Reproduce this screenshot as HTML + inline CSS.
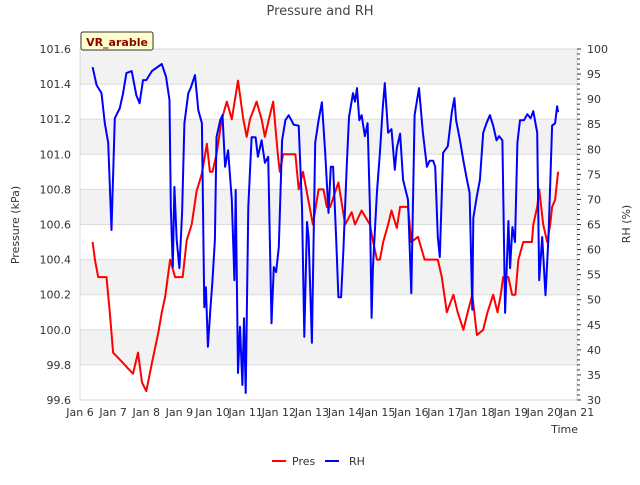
<!DOCTYPE html>
<html><head><meta charset="utf-8"><style>
body{margin:0;background:#fff;font-family:"Liberation Sans","DejaVu Sans",sans-serif;}
svg text{font-family:"DejaVu Sans","Liberation Sans",sans-serif;}
</style></head><body>
<svg id="c" width="640" height="480" xmlns="http://www.w3.org/2000/svg"></svg>
<script>
const xTickLabels=["Jan 6","Jan 7","Jan 8","Jan 9","Jan 10","Jan 11","Jan 12","Jan 13","Jan 14","Jan 15","Jan 16","Jan 17","Jan 18","Jan 19","Jan 20","Jan 21"];
const leftTicks=[99.6,99.8,100.0,100.2,100.4,100.6,100.8,101.0,101.2,101.4,101.6];
const rightTicks=[30,35,40,45,50,55,60,65,70,75,80,85,90,95,100];
const presDays=[6.38,6.45,6.55,6.8,6.9,7.0,7.3,7.45,7.6,7.75,7.87,8.0,8.17,8.36,8.47,8.57,8.72,8.87,9.1,9.22,9.37,9.52,9.68,9.83,9.92,10.0,10.12,10.28,10.43,10.58,10.77,10.93,11.03,11.13,11.33,11.48,11.58,11.7,11.83,11.97,12.03,12.13,12.5,12.6,12.73,13.03,13.2,13.35,13.45,13.55,13.64,13.8,14.0,14.2,14.3,14.5,14.75,14.85,14.96,15.05,15.15,15.3,15.4,15.56,15.66,15.9,16.0,16.2,16.4,16.8,16.92,17.07,17.27,17.4,17.57,17.7,17.84,17.98,18.17,18.3,18.47,18.6,18.7,18.77,18.93,19.04,19.14,19.23,19.38,19.64,19.68,19.8,19.86,19.98,20.1,20.19,20.25,20.34,20.43];
const presVals=[100.5,100.4,100.3,100.3,100.1,99.87,99.81,99.78,99.75,99.87,99.70,99.65,99.81,99.98,100.1,100.19,100.4,100.3,100.3,100.51,100.6,100.79,100.89,101.06,100.9,100.9,101.0,101.2,101.3,101.2,101.42,101.2,101.1,101.2,101.3,101.2,101.1,101.2,101.3,101.0,100.9,101.0,101.0,100.8,100.9,100.6,100.8,100.8,100.7,100.7,100.75,100.84,100.6,100.67,100.6,100.68,100.6,100.5,100.4,100.4,100.5,100.6,100.68,100.58,100.7,100.7,100.5,100.53,100.4,100.4,100.3,100.1,100.2,100.1,100.0,100.1,100.2,99.97,100.0,100.1,100.2,100.1,100.2,100.3,100.3,100.2,100.2,100.4,100.5,100.5,100.6,100.7,100.8,100.6,100.5,100.6,100.7,100.74,100.9];
const rhDays=[6.38,6.5,6.65,6.75,6.85,6.95,7.05,7.2,7.3,7.4,7.56,7.7,7.8,7.9,8.0,8.17,8.47,8.6,8.7,8.74,8.8,8.85,8.92,9.0,9.08,9.15,9.27,9.35,9.47,9.57,9.68,9.75,9.8,9.86,9.93,10.0,10.07,10.12,10.23,10.3,10.38,10.47,10.58,10.66,10.7,10.77,10.83,10.9,10.95,11.0,11.08,11.18,11.3,11.37,11.48,11.58,11.68,11.78,11.85,11.92,12.0,12.1,12.2,12.3,12.45,12.6,12.7,12.77,12.85,12.9,13.0,13.1,13.2,13.3,13.4,13.5,13.57,13.64,13.73,13.8,13.88,13.95,14.05,14.12,14.24,14.3,14.36,14.43,14.5,14.6,14.68,14.75,14.8,14.84,14.96,15.05,15.14,15.2,15.3,15.4,15.5,15.56,15.66,15.75,15.9,16.0,16.1,16.23,16.35,16.47,16.55,16.66,16.72,16.8,16.86,16.96,17.1,17.22,17.3,17.35,17.47,17.57,17.68,17.76,17.84,17.87,17.98,18.07,18.17,18.27,18.37,18.47,18.57,18.65,18.75,18.83,18.93,18.98,19.05,19.13,19.2,19.28,19.4,19.5,19.6,19.68,19.8,19.86,19.95,20.05,20.14,20.25,20.34,20.4,20.43];
const rhVals=[96.4,92.8,91.2,85.2,81.3,63.9,86.2,88.2,91.2,95.2,95.6,90.8,89.2,93.8,93.8,95.6,97,94.4,89.8,68.5,56.5,72.5,61.9,56.3,67.3,85.2,91.2,92.4,94.8,87.8,85.2,48.5,52.5,40.6,47.6,53.9,61.9,82.4,85.8,86.8,76.5,79.8,69.9,53.9,71.9,35.4,44.6,33,46.3,31.4,68.5,82.4,82.4,78.5,81.8,77.3,78.5,45.3,56.5,55.5,60.5,81.8,85.8,86.8,84.9,84.7,68.5,42.6,65.5,62.5,41.4,81.3,85.8,89.4,79.3,67.3,76.5,76.5,62.5,50.5,50.5,59.9,76.5,86.4,91.2,89.5,92.2,85.8,86.8,82.6,85.2,68.5,46.4,56.3,71.3,79.3,88.4,93.2,83.3,84,75.9,80.2,83.1,73.9,69.9,51.3,86.8,92.2,83.3,76.5,77.7,77.7,76.5,62.5,58.5,79.3,80.6,87.4,90.2,85.8,81.8,77.7,73.9,71.3,48,66.3,70.7,73.9,83.3,85.2,86.8,84.7,81.8,82.6,81.8,47.4,65.7,56.3,64.5,61.5,81.3,85.8,85.8,87,86.2,87.6,83.3,53.9,62.5,50.9,62.5,84.7,85.2,88.6,87.4];

const NS="http://www.w3.org/2000/svg";
const svg=document.getElementById('c');
const X0=80,X1=577,Y0=49,Y1=400;
const xs=d=>X0+(d-6)*(X1-X0)/15;
const yl=p=>Y1-(p-99.6)*(Y1-Y0)/2.0;
const yr=r=>Y1-(r-30)*(Y1-Y0)/70;
function mk(tag,attrs,parent){const e=document.createElementNS(NS,tag);for(const k in attrs)e.setAttribute(k,attrs[k]);(parent||svg).appendChild(e);return e;}

// bands + grid
for(let i=0;i<leftTicks.length-1;i++){
  const a=leftTicks[i],b=leftTicks[i+1];
  if(i%2===1){const r=mk('rect',{x:X0,y:yl(b),width:X1-X0,height:yl(a)-yl(b),fill:'#f2f2f2'});
  
  }
}
leftTicks.forEach(v=>{const l=mk('line',{x1:X0,x2:X1,y1:yl(v),y2:yl(v),stroke:'#dcdcdc','stroke-width':1});

});
const frame=mk('rect',{x:X0,y:Y0,width:X1-X0,height:Y1-Y0,fill:'none',stroke:'#d8d8d8'});



// left ticks
leftTicks.forEach(v=>{const t=mk('text',{x:71,y:yl(v)+4,'text-anchor':'end','font-size':11,fill:'#333'});t.textContent=v.toFixed(1);

});
// right ticks
for(let r=30;r<=100;r+=1){mk('line',{x1:X1,x2:X1+(r%5===0?4:3),y1:yr(r),y2:yr(r),stroke:'#333','stroke-width':1});}
rightTicks.forEach(v=>{const t=mk('text',{x:587,y:yr(v)+4,'font-size':11,fill:'#333'});t.textContent=v;

});
// x ticks
xTickLabels.forEach((s,i)=>{const t=mk('text',{x:xs(6+i),y:416,'text-anchor':'middle','font-size':11,fill:'#333'});t.textContent=s;

});

function path(days,vals,fy,color,name){
  let d='';days.forEach((dd,i)=>{d+=(i?'L':'M')+xs(dd).toFixed(1)+','+fy(vals[i]).toFixed(1);});
  const p=mk('path',{d:d,fill:'none',stroke:color,'stroke-width':2,'stroke-linejoin':'round'});
  
  
}
path(presDays,presVals,yl,'#ff0000','pres-line');
path(rhDays,rhVals,yr,'#0000ff','rh-line');
</script>
<svg width="640" height="480" style="position:absolute;left:0;top:0" xmlns="http://www.w3.org/2000/svg">
<text x="320" y="15" text-anchor="middle" font-size="13" fill="#444">Pressure and RH</text>
<text transform="translate(19,225) rotate(-90)" text-anchor="middle" font-size="11" fill="#333">Pressure (kPa)</text>
<text transform="translate(630,224) rotate(-90)" text-anchor="middle" font-size="11" fill="#333">RH (%)</text>
<text x="578" y="433" text-anchor="end" font-size="11" fill="#333">Time</text>
<g>
<rect x="81" y="32" width="72" height="18" rx="2" fill="#ffffcc" stroke="#333" stroke-width="1"/>
<text x="117" y="46" text-anchor="middle" font-size="11" font-weight="bold" fill="#8b0000">VR_arable</text>
</g>
<g>
<line x1="272" x2="286" y1="461" y2="461" stroke="#ff0000" stroke-width="2"/>
<text x="292" y="465" font-size="11" fill="#333">Pres</text>
</g>
<g>
<line x1="325" x2="339" y1="461" y2="461" stroke="#0000ff" stroke-width="2"/>
<text x="349" y="465" font-size="11" fill="#333">RH</text>
</g>
</svg>
</body></html>
